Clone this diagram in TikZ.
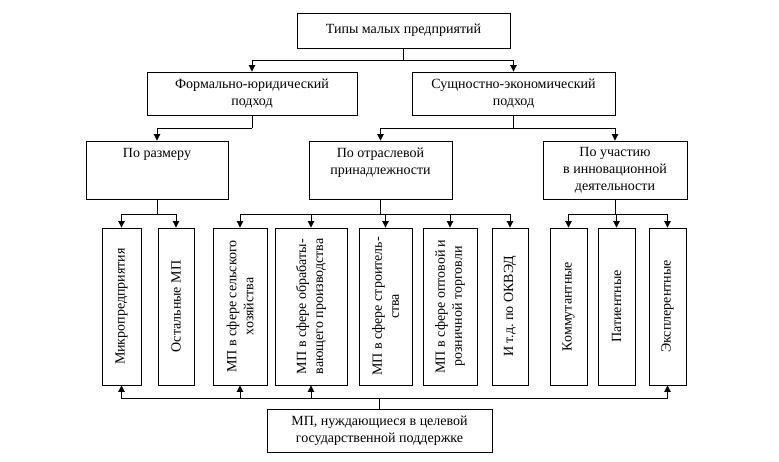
\documentclass[tikz,border=0pt]{standalone}
\usepackage{fontspec}
\setmainfont{Liberation Serif}
\usetikzlibrary{arrows.meta}
\frenchspacing
\begin{document}
\begin{tikzpicture}[
			x=1pt, y=-1pt,
			font=\fontsize{14}{17}\selectfont,
			blok/.style={rectangle, draw=black, line width=0.9pt,
				align=center, inner sep=2pt},
			blokv/.style={blok, rotate=90, minimum width=157pt},
			liniya/.style={line width=0.9pt, black},
			strelka/.style={liniya, -{Triangle[length=6.5pt, width=6.5pt]}},
			]
			\useasboundingbox (0,0) rectangle (779,461);
			
			% uroven 1
			\node[blok, minimum width=213pt, minimum height=35pt] (tipy) at (403.5,30.5)
			{Типы малых предприятий};
			
			% uroven 2 (podkhody)
			\node[blok, minimum width=210pt, minimum height=43pt] (formal) at (252,93.5)
			{Формально-юридический\\подход};
			\node[blok, minimum width=203pt, minimum height=43pt] (sushch) at (513.5,93.5)
			{Сущностно-экономический\\подход};
			
			% uroven 3 (priznaki)
			\node[blok, minimum width=142pt, minimum height=58pt] (razmer) at (157,170)
			{По размеру\\~\\~};
			\node[blok, minimum width=143pt, minimum height=58pt] (otrasl) at (380.5,170)
			{По отраслевой\\принадлежности\\~};
			\node[blok, minimum width=144pt, minimum height=58pt] (innov) at (615,170)
			{По участию\\в инновационной\\деятельности};
			
			% uroven 4 (vertikalnye bloki)
			\node[blokv, minimum height=39pt] (mikro)  at (121.5,306.5) {Микропредприятия};
			\node[blokv, minimum height=36pt] (ostal)  at (176,306.5)   {Остальные МП};
			\node[blokv, minimum height=54pt] (selsk)  at (240,306.5)   {МП в сфере сельского\\хозяйства};
			\node[blokv, minimum height=72pt] (obrab)  at (311,306.5)   {МП в сфере обрабаты-\\вающего производства};
			\node[blokv, minimum height=53pt] (stroit) at (385.5,306.5) {МП в сфере строитель-\\ства};
			\node[blokv, minimum height=54pt] (torg)   at (450,306.5)   {МП в сфере оптовой и\\розничной торговли};
			\node[blokv, minimum height=36pt] (okved)  at (510,306.5)   {И т.д. по ОКВЭД};
			\node[blokv, minimum height=37pt] (kommut) at (568.5,306.5) {Коммутантные};
			\node[blokv, minimum height=37pt] (patient) at (616.5,306.5) {Патиентные};
			\node[blokv, minimum height=37pt] (ekspl)  at (667.5,306.5) {Эксплерентные};
			
			% uroven 5
			\node[blok, minimum width=225pt, minimum height=43pt] (podderzh) at (379.5,430.5)
			{МП, нуждающиеся в целевой\\государственной поддержке};
			
			% tochki vetvleniya
			\coordinate (v1) at (403.5,60);
			\coordinate (v2) at (252,128);
			\coordinate (v3) at (513.5,128);
			\coordinate (v4) at (157,214);
			\coordinate (v5) at (380.5,214);
			\coordinate (v6) at (615,214);
			\coordinate (v7) at (379.5,398);
			
			% svyazi sverkhu vniz
			\draw[liniya] (tipy.south) -- (v1);
			\draw[strelka] (v1) -| (formal.north);
			\draw[strelka] (v1) -| (sushch.north);
			
			\draw[liniya] (formal.south) -- (v2);
			\draw[strelka] (v2) -| (razmer.north);
			\draw[liniya] (sushch.south) -- (v3);
			\draw[strelka] (v3) -| (otrasl.north);
			\draw[strelka] (v3) -| (innov.north);
			
			\draw[liniya] (razmer.south) -- (v4);
			\foreach \b in {mikro, ostal}
			\draw[strelka] (v4) -| (\b.east);
			\draw[liniya] (otrasl.south) -- (v5);
			\foreach \b in {selsk, obrab, stroit, torg, okved}
			\draw[strelka] (v5) -| (\b.east);
			\draw[liniya] (innov.south) -- (v6);
			\foreach \b in {kommut, patient, ekspl}
			\draw[strelka] (v6) -| (\b.east);
			
			% gospodderzhka
			\draw[liniya] (podderzh.north) -- (v7);
			\foreach \b in {mikro, selsk, obrab, ekspl}
			\draw[strelka] (v7) -| (\b.west);
			
		\end{tikzpicture}
\end{document}
